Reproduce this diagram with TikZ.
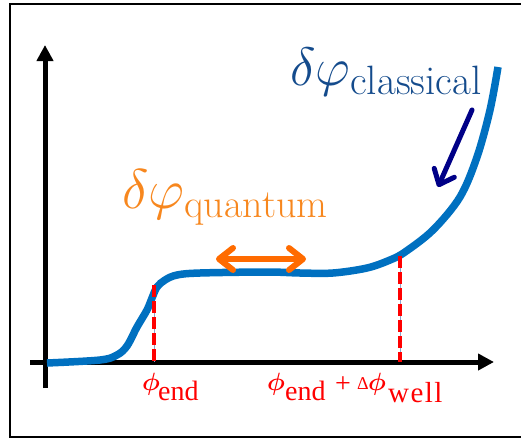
\documentclass[tikz,border=0pt]{standalone}
\usepackage{fix-cm}
\usepackage{fontspec}
\usetikzlibrary{arrows.meta}
\newfontfamily\labfont{Liberation Serif}
\definecolor{curveblue}{RGB}{0,112,192}
\definecolor{classblue}{RGB}{20,75,140}
\definecolor{navyarr}{RGB}{0,0,135}
\definecolor{orangearr}{RGB}{255,107,0}
\definecolor{orangetxt}{RGB}{247,135,30}
\definecolor{thinline}{RGB}{140,160,200}
\newcommand{\lphi}[1]{{\fontsize{#1}{#1}\selectfont$\boldsymbol{\phi}$}}
\newcommand{\lsub}[2]{\raisebox{#1}{\fontsize{28}{28}\selectfont\labfont #2}}
\newcommand{\pcs}[2]{\makebox[#1][l]{#2}}
\tikzset{
  axis/.style={line width=5pt,-{Triangle[length=16pt,width=16pt]}},
  marker/.style={red,line width=4pt,dash pattern=on 12pt off 4pt},
  guide/.style={thinline,line width=1pt},
  barb/.style={line width=6pt,line cap=round,{Straight Barb[length=14pt,width=22pt,round]}-{Straight Barb[length=14pt,width=22pt,round]}},
  barbone/.style={line width=5pt,line cap=round,-{Straight Barb[length=13pt,width=22pt,round]}},
  lab/.style={red,inner sep=0pt,anchor=base west},
  bigtxt/.style={inner sep=0pt,anchor=base west},
}
\usepackage{amsmath}
\begin{document}
\begin{tikzpicture}[x=1pt,y=-1pt]
\useasboundingbox (0,0) rectangle (521,439);
\clip (0,0) rectangle (521,439);
\draw[line width=2pt] (10,4) rectangle (535,437);
% axes
\coordinate (yb) at (45,388);
\coordinate (yt) at (45,45);
\coordinate (xl) at (30,362);
\coordinate (xr) at (494,362);
\draw[axis] (yb) -- (yt);
\draw[axis] (xl) -- (xr);
% markers
\coordinate (m1t) at (154,285);
\coordinate (m1b) at (154,362);
\coordinate (m2t) at (400,256);
\coordinate (m2b) at (400,362);
\draw[guide] (m1t) -- (m1b);
\draw[guide] (m2t) -- (m2b);
% curve
\draw[curveblue,line width=7.5pt,line cap=butt] plot[smooth,tension=0.55] coordinates {
 (47,363) (100,360) (117,355) (127,346) (137,327) (147,310) (152,298) (157,287)
 (165,280) (177,275) (200,273) (267,272) (300,273) (333,273) (367,268) (390,260)
 (405,252) (433,230) (460,197) (477,157) (490,110) (498,67)};
\draw[marker] (m1t) -- (m1b);
\draw[marker] (m2t) -- (m2b);
% arrows
\coordinate (qa) at (216,259);
\coordinate (qb) at (306,259);
\draw[orangearr,barb] (qa) -- (qb);
\coordinate (ca) at (472,110);
\coordinate (cb) at (438,187);
\draw[navyarr,barbone] (ca) -- (cb);
% texts
\node[bigtxt,classblue,font=\fontsize{54}{54}\selectfont] (tcl) at (290,85)
  {$\delta\varphi$\raisebox{-9pt}{\fontsize{41}{41}\selectfont classical}};
\node[bigtxt,orangetxt,font=\fontsize{56}{56}\selectfont] (tqu) at (122,208)
  {$\delta\varphi$\raisebox{-9pt}{\fontsize{40}{40}\selectfont quantum}};
\node[lab] (l1) at (142,390) {\pcs{16pt}{\lphi{25}}\lsub{-10pt}{end}};
\node[lab] (l2) at (267,390) {\pcs{18pt}{\lphi{25}}\pcs{50pt}{\lsub{-10pt}{end}}\pcs{22pt}{\raisebox{-2pt}{\fontsize{28}{28}\selectfont\labfont +}}\pcs{11pt}{\raisebox{1pt}{\fontsize{18}{18}\selectfont\labfont Δ}}\pcs{20pt}{\raisebox{-0.5pt}{\lphi{25}}}\raisebox{-12pt}{\fontsize{29}{29}\selectfont\labfont\addfontfeature{LetterSpace=5}well}};
\end{tikzpicture}
\end{document}
